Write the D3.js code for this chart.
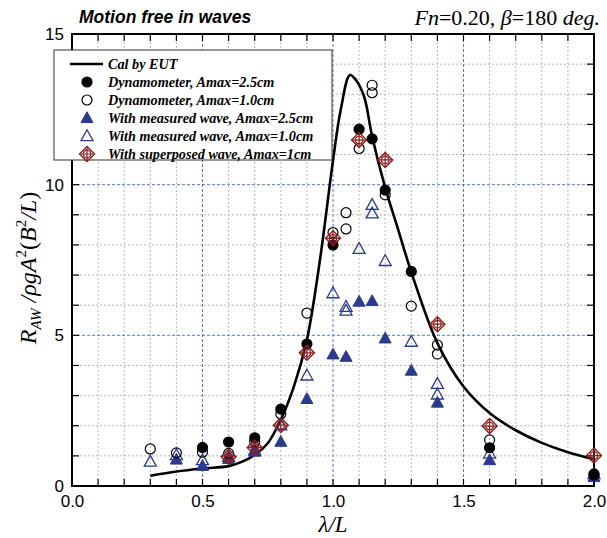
<!DOCTYPE html>
<html><head><meta charset="utf-8">
<script src="https://cdn.jsdelivr.net/npm/d3@7"></script>
<style>body{margin:0;background:#fff}svg{display:block}</style>
</head><body>
<svg id="c" width="607" height="538"></svg>
<script>
// ---- data ----
const calX = [0.3,0.4,0.5,0.6,0.65,0.7,0.75,0.8,0.85,0.9,0.95,1.0,1.03,1.065,1.09,1.12,1.15,1.2,1.25,1.3,1.4,1.5,1.6,1.7,1.8,1.9,2.0];
const calY = [0.34,0.48,0.58,0.66,0.8,1.03,1.42,2.2,3.3,4.85,7.5,10.8,12.5,13.64,13.45,12.9,11.6,9.9,8.5,7.1,4.74,3.3,2.42,1.85,1.43,1.12,0.89];

const dyn25X = [0.5,0.6,0.7,0.8,0.9,1.0,1.1,1.15,1.2,1.3,1.6,2.0];
const dyn25Y = [1.28,1.46,1.6,2.55,4.71,8.0,11.84,11.52,9.82,7.12,1.27,0.4];

const dyn10X = [0.3,0.4,0.5,0.6,0.7,0.8,0.9,1.0,1.05,1.05,1.1,1.15,1.15,1.2,1.3,1.4,1.4,1.6,2.0];
const dyn10Y = [1.23,1.1,1.12,1.08,1.47,2.39,5.74,8.41,9.07,8.53,11.2,13.3,13.05,9.66,5.97,4.68,4.38,1.53,0.36];

const mw25X = [0.4,0.5,0.6,0.7,0.8,0.9,1.0,1.05,1.1,1.15,1.2,1.3,1.4,1.6,2.0];
const mw25Y = [0.88,0.67,0.9,1.14,1.47,2.89,4.37,4.29,6.12,6.14,4.9,3.83,2.77,0.86,0.3];

const mw10X = [0.3,0.4,0.5,0.6,0.7,0.8,0.9,1.0,1.05,1.05,1.1,1.15,1.15,1.2,1.3,1.4,1.4,1.6,2.0];
const mw10Y = [0.81,1.03,0.86,0.97,1.19,2.02,3.67,6.4,5.95,5.82,7.87,9.33,9.05,7.47,4.79,3.39,3.04,1.08,0.4];

const supX = [0.6,0.7,0.8,0.9,1.0,1.1,1.2,1.4,1.6,2.0];
const supY = [0.97,1.28,2.02,4.42,8.22,11.48,10.82,5.37,1.99,1.01];

const xTicks = [0.0,0.5,1.0,1.5,2.0];
const yTicks = [0,5,10,15];
const legendLabels = ["Cal by EUT","Dynamometer, Amax=2.5cm","Dynamometer, Amax=1.0cm",
  "With measured wave, Amax=2.5cm","With measured wave, Amax=1.0cm","With superposed wave, Amax=1cm"];

// ---- layout ----
const L = 72, R = 594, T = 34, B = 486;
const NAVY = "#2b3a8c", RED = "#8b1e1e";
const SERIF = "Liberation Serif, Times New Roman, serif";
const SANS = "Liberation Sans, Arial, sans-serif";
const svg = d3.select("#c");
const x = d3.scaleLinear().domain([0,2]).range([L,R]);
const y = d3.scaleLinear().domain([0,15]).range([B,T]);

// grid
const g = svg.append("g");
d3.range(1,20).forEach(i => {
  const v = i/10, blue = (i % 5 === 0);
  g.append("line").attr("x1",x(v)).attr("x2",x(v)).attr("y1",T).attr("y2",B)
    .attr("stroke", blue ? "#3e6cc6" : "#b0b0b0").attr("stroke-width",0.9)
    .attr("stroke-dasharray", blue ? "3,2" : "2,2");
});
d3.range(1,15).forEach(v => {
  const blue = (v % 5 === 0);
  g.append("line").attr("x1",L).attr("x2",R).attr("y1",y(v)).attr("y2",y(v))
    .attr("stroke", blue ? "#3e6cc6" : "#b0b0b0").attr("stroke-width",0.9)
    .attr("stroke-dasharray", blue ? "3,2" : "2,2");
});

// axes
const minorX = d3.range(0,21).map(i=>i/10);
const axB = d3.axisBottom(x).tickValues(xTicks).tickFormat(d3.format(".1f")).tickSize(0).tickPadding(9);
svg.append("g").attr("transform",`translate(0,${B})`).call(axB)
  .call(s=>s.select(".domain").remove())
  .selectAll("text").attr("font-family",SANS).attr("font-size",17).attr("fill","#000");
const axL = d3.axisLeft(y).tickValues(yTicks).tickSize(0).tickPadding(8);
svg.append("g").attr("transform",`translate(${L},0)`).call(axL)
  .call(s=>s.select(".domain").remove())
  .selectAll("text").attr("font-family",SANS).attr("font-size",17).attr("fill","#000");

// inward ticks
const tk = svg.append("g").attr("stroke","#000").attr("stroke-width",1.2);
minorX.forEach(v=>{
  tk.append("line").attr("x1",x(v)).attr("x2",x(v)).attr("y1",B).attr("y2",B-7);
  tk.append("line").attr("x1",x(v)).attr("x2",x(v)).attr("y1",T).attr("y2",T+7);
});
d3.range(0,16).forEach(v=>{
  tk.append("line").attr("y1",y(v)).attr("y2",y(v)).attr("x1",L).attr("x2",L+7);
  tk.append("line").attr("y1",y(v)).attr("y2",y(v)).attr("x1",R).attr("x2",R-7);
});
svg.append("rect").attr("x",L).attr("y",T).attr("width",R-L).attr("height",B-T)
  .attr("fill","none").attr("stroke","#000").attr("stroke-width",2);

// curve
const calData = calX.map((v,i)=>[v,calY[i]]);
svg.append("path").datum(calData)
  .attr("d", d3.line().x(d=>x(d[0])).y(d=>y(d[1])).curve(d3.curveCatmullRom.alpha(0.5)))
  .attr("fill","none").attr("stroke","#000").attr("stroke-width",2.6);

// symbol drawers
function tri(sel, filled){
  sel.append("path").attr("d","M0,-6.2L6,4.6L-6,4.6Z")
    .attr("fill", filled?NAVY:"#fff").attr("fill-opacity", filled?1:0)
    .attr("stroke",NAVY).attr("stroke-width", filled?1:1.3);
}
function circ(sel, filled){
  sel.append("circle").attr("r",5).attr("fill",filled?"#000":"#fff").attr("fill-opacity",filled?1:0.0)
    .attr("stroke","#000").attr("stroke-width",1.2);
}
function diam(sel){
  sel.append("path").attr("d","M0,-7.5L7.5,0L0,7.5L-7.5,0Z").attr("fill","none").attr("stroke",RED).attr("stroke-width",1.4);
  sel.append("circle").attr("r",3.8).attr("fill","none").attr("stroke",RED).attr("stroke-width",1.2);
  sel.append("path").attr("d","M0,-7.5V7.5M-7.5,0H7.5").attr("stroke",RED).attr("stroke-width",1.2);
}
function plot(xs, ys, draw){
  xs.forEach((v,i)=>{
    const s = svg.append("g").attr("transform",`translate(${x(v)},${y(ys[i])})`);
    draw(s);
  });
}
plot(mw25X, mw25Y, s=>tri(s,true));
plot(mw10X, mw10Y, s=>tri(s,false));
plot(dyn25X, dyn25Y, s=>circ(s,true));
plot(dyn10X, dyn10Y, s=>circ(s,false));
plot(supX, supY, s=>diam(s));

// legend
const lg = svg.append("g");
lg.append("rect").attr("x",54).attr("y",50).attr("width",278).attr("height",110)
  .attr("fill","#fff").attr("stroke","#333").attr("stroke-width",1);
const rows = [64,82,100,118,136,154];
legendLabels.forEach((t,i)=>{
  const yy = rows[i];
  const s = lg.append("g").attr("transform",`translate(87,${yy})`);
  if(i===0) s.append("line").attr("x1",-17).attr("x2",16).attr("stroke","#000").attr("stroke-width",2.4);
  else if(i===1) circ(s,true);
  else if(i===2) circ(s,false);
  else if(i===3) tri(s,true);
  else if(i===4) tri(s,false);
  else diam(s);
  lg.append("text").attr("x",108).attr("y",yy+4.5).text(t)
    .attr("font-family",SERIF).attr("font-weight","bold")
    .attr("font-style","italic").attr("font-size",14.2).attr("fill","#000");
});

// titles
svg.append("text").attr("x",79).attr("y",23).text("Motion free in waves")
  .attr("font-family",SANS).attr("font-weight","bold")
  .attr("font-style","italic").attr("font-size",17.5);
const rt = svg.append("text").attr("x",600).attr("y",25).attr("text-anchor","end")
  .attr("font-family",SERIF).attr("font-size",22);
rt.append("tspan").attr("font-style","italic").text("Fn");
rt.append("tspan").text("=0.20,  ");
rt.append("tspan").attr("font-style","italic").text("β");
rt.append("tspan").text("=180  ");
rt.append("tspan").attr("font-style","italic").text("deg.");

// axis titles
const xt = svg.append("text").attr("x",x(1)).attr("y",532).attr("text-anchor","middle")
  .attr("font-family",SERIF).attr("font-size",23).attr("font-style","italic");
xt.text("λ/L");
const yt = svg.append("text").attr("transform",`translate(36,${(T+B)/2+8}) rotate(-90)`).attr("text-anchor","middle")
  .attr("font-family",SERIF).attr("font-size",24).attr("font-style","italic");
yt.append("tspan").text("R");
yt.append("tspan").attr("font-size",15).attr("dy",5).text("AW");
yt.append("tspan").attr("dy",-5).text(" /ρgA");
yt.append("tspan").attr("font-size",15).attr("dy",-10).attr("font-style","normal").text("2");
yt.append("tspan").attr("dy",10).attr("font-style","normal").text("(");
yt.append("tspan").text("B");
yt.append("tspan").attr("font-size",15).attr("dy",-10).attr("font-style","normal").text("2");
yt.append("tspan").attr("dy",10).text("/L");
yt.append("tspan").attr("font-style","normal").text(")");
</script>
</body></html>
